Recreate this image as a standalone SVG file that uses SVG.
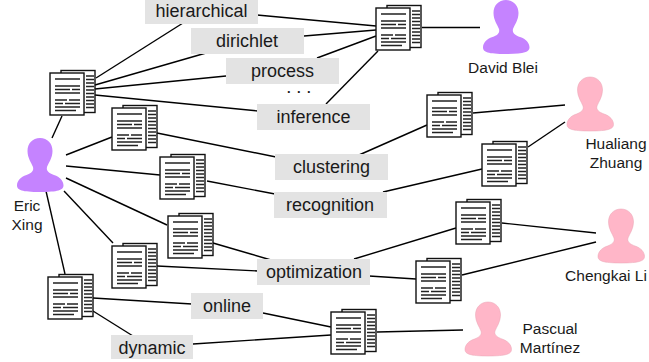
<svg xmlns="http://www.w3.org/2000/svg" width="649" height="362" viewBox="0 0 649 362">
<style>
.l{fill:#e3e3e3}
.t{font-family:"Liberation Sans",Arial,sans-serif;font-size:18px;fill:#1a1a1a;text-anchor:middle}
.n{font-family:"Liberation Sans",Arial,sans-serif;font-size:15.5px;fill:#1a1a1a;text-anchor:middle}
#connectors line{stroke:#000;stroke-width:1.4}
.pg{fill:#fff;stroke:#111;stroke-width:1.4}
.ln{stroke:#222;stroke-width:1.4;fill:none}
.pu{fill:#c583ff}
.pk{fill:#ffb6c8;stroke:#e8a4b4;stroke-width:.5}
</style>
<defs>
<g id="doc">
<rect class="pg" x="11" y="-2.5" width="34" height="42"/>
<path class="ln" d="M36 3h8M36 6.5h8M36 10h8M36 13.500h8M36 17h8M36 20.500h8M36 24h8M36 27.500h8M36 31h8M36 34.500h8"/>
<rect class="pg" x="0" y="0" width="34" height="42"/>
<path class="ln" d="M5 6h25M5 13h25M5 16.500h15M22 16.500h8M5 20h25M5 27h12M19 27h11M5 30.500h8M15 30.500h15M5 34h25M5 37.500h21"/>
</g>
<path id="person" d="M23 0C30.500 0 35.500 5.500 35.500 13C35.500 20 31.500 25 30 29C29 33 32 35 37 37C43 39 46.500 43 46.500 47.500C46.500 52 41 54 23 54C5 54 0 52 0 47.500C0 43 3.500 39 9.500 37C14.500 35 17 33 16 29C14.500 25 10.500 20 10.500 13C10.500 5.500 15.500 0 23 0Z"/>
</defs>
<g id="connectors">
<line x1="96" y1="78" x2="183" y2="23"/>
<line x1="95" y1="85" x2="206" y2="53"/>
<line x1="95" y1="89" x2="226" y2="76"/>
<line x1="95" y1="95" x2="258" y2="111"/>
<line x1="257" y1="15" x2="376" y2="26"/>
<line x1="304" y1="36" x2="376" y2="30"/>
<line x1="317" y1="58" x2="376" y2="36"/>
<line x1="326" y1="104" x2="378" y2="51"/>
<line x1="422" y1="27.500" x2="480" y2="27.500"/>
<line x1="52" y1="138" x2="62" y2="116"/>
<line x1="66" y1="155" x2="112" y2="137"/>
<line x1="157" y1="133" x2="276" y2="157"/>
<line x1="66" y1="166" x2="160" y2="175"/>
<line x1="66" y1="178" x2="167" y2="225"/>
<line x1="64" y1="191" x2="113" y2="243"/>
<line x1="46" y1="191" x2="65" y2="274"/>
<line x1="213" y1="243" x2="271" y2="260"/>
<line x1="157" y1="266" x2="258" y2="271"/>
<line x1="93" y1="298" x2="192" y2="304"/>
<line x1="93" y1="311" x2="133" y2="336"/>
<line x1="263" y1="313" x2="331" y2="327"/>
<line x1="193" y1="344" x2="331" y2="335"/>
<line x1="377" y1="332" x2="463" y2="330"/>
<line x1="359" y1="155" x2="427" y2="125"/>
<line x1="473" y1="113" x2="565" y2="105"/>
<line x1="528" y1="147" x2="565" y2="122"/>
<line x1="383" y1="192" x2="482" y2="169"/>
<line x1="207" y1="181" x2="275" y2="194"/>
<line x1="354" y1="259" x2="456" y2="228"/>
<line x1="502" y1="223" x2="596" y2="233"/>
<line x1="462" y1="275" x2="596" y2="242"/>
<line x1="369" y1="276" x2="416" y2="279"/>
</g>
<g id="doc1"><use href="#doc" x="50" y="73"/></g>
<g id="doc2"><use href="#doc" x="112" y="108"/></g>
<g id="doc3"><use href="#doc" x="160" y="157"/></g>
<g id="doc4"><use href="#doc" x="168" y="216"/></g>
<g id="doc5"><use href="#doc" x="112" y="246"/></g>
<g id="doc6"><use href="#doc" x="48" y="277"/></g>
<g id="doc7"><use href="#doc" x="376" y="8"/></g>
<g id="doc8"><use href="#doc" x="427" y="95"/></g>
<g id="doc9"><use href="#doc" x="482" y="144"/></g>
<g id="doc10"><use href="#doc" x="456" y="202"/></g>
<g id="doc11"><use href="#doc" x="416" y="261"/></g>
<g id="doc12"><use href="#doc" x="331" y="312"/></g>
<g id="kw-hierarchical"><rect class="l" x="145" y="0" width="113" height="24"/><text class="t" x="201.500" y="17">hierarchical</text></g>
<g id="kw-dirichlet"><rect class="l" x="191" y="28" width="113" height="26"/><text class="t" x="247" y="47">dirichlet</text></g>
<g id="kw-process"><rect class="l" x="226" y="58" width="113" height="26"/><text class="t" x="282.500" y="77">process</text></g>
<g id="kw-dots"><text x="302" y="93" font-family="'Liberation Sans',Arial,sans-serif" font-size="13" font-weight="bold" letter-spacing="6.4" text-anchor="middle" fill="#1a1a1a">...</text></g>
<g id="kw-inference"><rect class="l" x="257" y="104" width="113" height="26"/><text class="t" x="313.500" y="123">inference</text></g>
<g id="kw-clustering"><rect class="l" x="275" y="154" width="113" height="26"/><text class="t" x="331.500" y="173">clustering</text></g>
<g id="kw-recognition"><rect class="l" x="274" y="192" width="113" height="26"/><text class="t" x="330" y="211">recognition</text></g>
<g id="kw-optimization"><rect class="l" x="257" y="259" width="113" height="26"/><text class="t" x="314" y="278">optimization</text></g>
<g id="kw-online"><rect class="l" x="191" y="293" width="72" height="26"/><text class="t" x="227" y="312">online</text></g>
<g id="kw-dynamic"><rect class="l" x="111" y="335" width="82" height="24"/><text class="t" x="152" y="354">dynamic</text></g>
<g id="eric"><use href="#person" class="pu" x="17" y="138"/><text class="n" x="27" y="211">Eric</text><text class="n" x="27" y="230">Xing</text></g>
<g id="david"><use href="#person" class="pu" x="483" y="0"/><text class="n" x="503" y="73">David Blei</text></g>
<g id="hualiang"><use href="#person" class="pk" x="567" y="77"/><text class="n" x="616" y="149">Hualiang</text><text class="n" x="616" y="168">Zhuang</text></g>
<g id="chengkai"><use href="#person" class="pk" x="598" y="209"/><text class="n" x="606" y="281">Chengkai Li</text></g>
<g id="pascual"><use href="#person" class="pk" x="465" y="302"/><text class="n" x="550" y="334">Pascual</text><text class="n" x="550" y="353">Martínez</text></g>
</svg>
